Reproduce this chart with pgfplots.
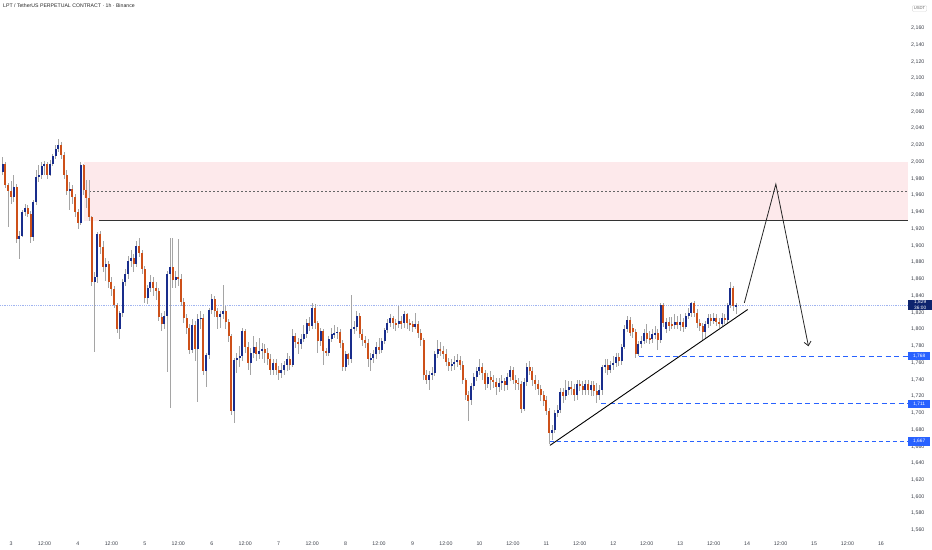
\documentclass[border=0pt]{standalone}
\usepackage{pgfplots}
\pgfplotsset{compat=1.18}
\usepackage{pgfplotstable}
\usepackage{fontspec}
\setmainfont{Liberation Sans}
\usetikzlibrary{arrows.meta}
\definecolor{upc}{RGB}{25,45,140}
\definecolor{dnc}{RGB}{205,80,25}
\definecolor{wick}{RGB}{165,165,165}
\definecolor{zone}{RGB}{253,233,235}
\definecolor{tvblue}{RGB}{41,98,255}
\definecolor{navylab}{RGB}{14,36,110}
\definecolor{curline}{RGB}{160,180,240}
\definecolor{labc}{RGB}{60,64,74}
\newcommand{\tickfont}{\fontsize{5.3}{6}\selectfont}
\pgfplotstableread{
t o h l c
-3 1988 2006 1985 1997
-2 1997 2000 1969 1972
-1 1972 1975 1922 1965
0 1965 1977 1950 1958
1 1958 1985 1952 1970
2 1970 1974 1903 1908
3 1908 1918 1884 1912
4 1912 1942 1910 1940
5 1940 1950 1936 1945
6 1945 1948 1934 1938
7 1938 1942 1903 1910
8 1910 1955 1906 1952
9 1952 1990 1948 1982
10 1982 1996 1976 1984
11 1984 2000 1980 1995
12 1995 2001 1984 1997
13 1997 2000 1980 1985
14 1985 2002 1983 1998
15 1998 2010 1995 2007
16 2007 2020 2004 2016
17 2016 2028 2012 2020
18 2020 2024 2004 2008
19 2008 2012 1980 1985
20 1985 1990 1960 1965
21 1965 1976 1942 1968
22 1968 1972 1950 1958
23 1958 1962 1934 1940
24 1940 1944 1920 1927
25 1927 2000 1925 1996
26 1996 1998 1960 1966
27 1966 1978 1945 1957
28 1957 1978 1930 1934
29 1934 1936 1852 1857
30 1857 1868 1773 1862
31 1862 1916 1855 1914
32 1914 1918 1890 1898
33 1898 1905 1868 1874
34 1874 1885 1858 1878
35 1878 1882 1850 1857
36 1857 1862 1840 1848
37 1848 1852 1825 1829
38 1829 1832 1796 1801
39 1801 1822 1789 1819
40 1819 1860 1815 1857
41 1857 1872 1852 1866
42 1866 1888 1860 1882
43 1882 1895 1875 1885
44 1885 1890 1868 1878
45 1878 1905 1874 1900
46 1900 1909 1886 1891
47 1891 1895 1866 1872
48 1872 1876 1832 1837
49 1837 1853 1830 1849
50 1849 1865 1845 1857
51 1857 1862 1840 1850
52 1850 1856 1835 1846
53 1846 1850 1810 1815
54 1815 1820 1798 1806
55 1806 1822 1800 1816
56 1816 1870 1749 1866
57 1866 1909 1706 1875
58 1875 1909 1850 1859
59 1859 1870 1850 1862
60 1862 1908 1852 1860
61 1860 1866 1828 1833
62 1833 1838 1808 1813
63 1813 1818 1795 1802
64 1802 1806 1770 1775
65 1775 1812 1772 1805
66 1805 1810 1762 1776
67 1776 1818 1713 1812
68 1812 1822 1800 1814
69 1814 1818 1745 1750
70 1750 1772 1731 1769
71 1769 1826 1765 1823
72 1823 1842 1818 1836
73 1836 1840 1815 1822
74 1822 1826 1800 1815
75 1815 1822 1802 1818
76 1818 1853 1812 1822
77 1822 1828 1800 1809
78 1809 1812 1785 1792
79 1792 1795 1698 1703
80 1703 1766 1688 1763
81 1763 1772 1748 1766
82 1766 1780 1755 1768
83 1768 1802 1762 1798
84 1798 1800 1772 1779
85 1779 1785 1752 1760
86 1760 1778 1745 1772
87 1772 1792 1766 1779
88 1779 1785 1762 1770
89 1770 1790 1765 1774
90 1774 1784 1764 1777
91 1777 1782 1760 1772
92 1772 1778 1758 1765
93 1765 1770 1745 1751
94 1751 1765 1746 1760
95 1760 1764 1745 1752
96 1752 1756 1740 1748
97 1748 1760 1742 1752
98 1752 1762 1745 1757
99 1757 1772 1750 1765
100 1765 1768 1752 1757
101 1757 1800 1755 1792
102 1792 1796 1778 1785
103 1785 1790 1770 1782
104 1782 1794 1776 1788
105 1788 1805 1785 1795
106 1795 1812 1790 1807
107 1807 1815 1798 1804
108 1804 1832 1800 1826
109 1826 1830 1800 1808
110 1808 1810 1772 1786
111 1786 1802 1780 1798
112 1798 1800 1758 1774
113 1774 1778 1768 1772
114 1772 1792 1768 1789
115 1789 1802 1785 1794
116 1794 1805 1790 1796
117 1796 1803 1788 1797
118 1797 1800 1778 1784
119 1784 1787 1750 1755
120 1755 1774 1750 1770
121 1770 1772 1758 1764
122 1764 1841 1760 1801
123 1801 1810 1795 1803
124 1803 1822 1798 1816
125 1816 1819 1790 1795
126 1795 1800 1780 1787
127 1787 1792 1778 1784
128 1784 1788 1755 1764
129 1764 1772 1750 1766
130 1766 1775 1760 1770
131 1770 1785 1765 1779
132 1779 1790 1770 1775
133 1775 1790 1772 1786
134 1786 1802 1783 1799
135 1799 1812 1796 1807
136 1807 1818 1803 1813
137 1813 1816 1800 1808
138 1808 1812 1798 1806
139 1806 1828 1802 1810
140 1810 1816 1800 1807
141 1807 1822 1802 1818
142 1818 1820 1800 1808
143 1808 1812 1798 1806
144 1806 1810 1797 1803
145 1803 1820 1800 1806
146 1806 1810 1790 1796
147 1796 1800 1780 1787
148 1787 1790 1740 1746
149 1746 1752 1735 1740
150 1740 1750 1727 1745
151 1745 1755 1740 1748
152 1748 1774 1744 1771
153 1771 1787 1766 1777
154 1777 1785 1768 1774
155 1774 1780 1764 1771
156 1771 1776 1756 1761
157 1761 1766 1750 1756
158 1756 1765 1750 1759
159 1759 1768 1752 1761
160 1761 1770 1755 1763
161 1763 1768 1752 1758
162 1758 1762 1735 1739
163 1739 1742 1716 1721
164 1721 1726 1691 1715
165 1715 1736 1710 1732
166 1732 1748 1728 1743
167 1743 1755 1738 1750
168 1750 1765 1745 1755
169 1755 1760 1740 1748
170 1748 1752 1728 1735
171 1735 1748 1730 1743
172 1743 1750 1728 1740
173 1740 1746 1730 1737
174 1737 1742 1722 1731
175 1731 1742 1725 1736
176 1736 1745 1728 1738
177 1738 1742 1726 1734
178 1734 1748 1728 1743
179 1743 1756 1738 1751
180 1751 1755 1735 1740
181 1740 1745 1728 1736
182 1736 1742 1728 1735
183 1735 1738 1700 1705
184 1705 1742 1702 1737
185 1737 1760 1732 1755
186 1755 1762 1745 1750
187 1750 1755 1732 1739
188 1739 1745 1728 1735
189 1735 1740 1722 1729
190 1729 1733 1714 1721
191 1721 1726 1708 1715
192 1715 1720 1698 1703
193 1703 1706 1663 1676
194 1676 1686 1668 1680
195 1680 1704 1676 1700
196 1700 1710 1695 1704
197 1704 1730 1700 1725
198 1725 1730 1712 1720
199 1720 1740 1715 1728
200 1728 1738 1722 1731
201 1731 1738 1722 1729
202 1729 1735 1715 1721
203 1721 1740 1716 1735
204 1735 1740 1726 1732
205 1732 1738 1722 1728
206 1728 1740 1722 1735
207 1735 1740 1722 1727
208 1727 1738 1720 1733
209 1733 1738 1720 1726
210 1726 1736 1712 1722
211 1722 1734 1716 1727
212 1727 1758 1722 1755
213 1755 1764 1748 1758
214 1758 1764 1746 1752
215 1752 1762 1748 1757
216 1757 1768 1752 1760
217 1760 1772 1755 1767
218 1767 1772 1756 1762
219 1762 1782 1758 1779
220 1779 1805 1776 1801
221 1801 1816 1797 1811
222 1811 1815 1792 1796
223 1802 1806 1790 1797
224 1797 1800 1766 1771
225 1771 1786 1768 1783
226 1783 1792 1778 1786
227 1786 1800 1782 1796
228 1796 1806 1784 1789
229 1789 1798 1782 1788
230 1788 1800 1784 1794
231 1794 1804 1788 1796
232 1796 1800 1775 1787
233 1787 1832 1784 1829
234 1829 1832 1803 1808
235 1801 1814 1796 1809
236 1809 1815 1798 1804
237 1806 1815 1800 1805
238 1805 1818 1800 1809
239 1809 1816 1800 1805
240 1805 1818 1798 1809
241 1809 1814 1797 1803
242 1803 1820 1800 1816
243 1816 1825 1812 1819
244 1819 1833 1815 1831
245 1831 1834 1815 1820
246 1820 1824 1802 1808
247 1808 1812 1798 1804
248 1804 1808 1786 1797
249 1797 1810 1790 1806
250 1806 1818 1802 1814
251 1814 1818 1804 1810
252 1810 1820 1806 1814
253 1814 1818 1804 1809
254 1809 1814 1802 1807
255 1807 1820 1804 1814
256 1814 1818 1806 1811
257 1811 1832 1808 1829
258 1829 1856 1826 1850
259 1850 1852 1822 1828
260 1828 1832 1818 1829
}\candles
\begin{document}
\begin{tikzpicture}
\useasboundingbox (0,0) rectangle (932bp,550bp);
\begin{axis}[
  at={(0,15bp)}, anchor=south west,
  scale only axis, width=908bp, height=535bp,
  xmin=-3.95, xmax=321.7, ymin=1554.3, ymax=2193.5,
  axis line style={draw=none},
  major tick length=0pt,
  clip=false,
  scaled y ticks=false,
  ytick={1560,1580,...,2160},
  yticklabel pos=right,
  yticklabel style={font=\tickfont, text=labc, anchor=west, inner sep=0pt, xshift=3bp},
  xtick={0,12,...,312},
  xticklabels={3,12:00,4,12:00,5,12:00,6,12:00,7,12:00,8,12:00,9,12:00,10,12:00,11,12:00,12,12:00,13,12:00,14,12:00,15,12:00,16},
  xticklabel style={font=\tickfont, text=labc, anchor=north, inner sep=0pt, yshift=-7bp},
  /pgf/number format/.cd, 1000 sep={,}, assume math mode=true,
]
% zone
\addplot[fill=zone, draw=none, mark=none, forget plot] coordinates {(26,1930) (321.7,1930) (321.7,2000) (26,2000)} -- cycle;
\addplot[color=black!60, mark=none, dash pattern=on 2bp off 2bp, line width=0.5bp] coordinates {(28,1965) (321.7,1965)};
\addplot[color=black!80, mark=none, line width=1.1bp] coordinates {(31.6,1930) (321.7,1930)};
% current price line
\addplot[color=curline, mark=none, dash pattern=on 0.6bp off 1.2bp, line width=0.6bp] coordinates {(-3.95,1829) (321.7,1829)};
% support lines
\addplot[color=tvblue, mark=none, dash pattern=on 5bp off 3.5bp, line width=0.9bp] coordinates {(225.3,1768) (321.7,1768)};
\addplot[color=tvblue, mark=none, dash pattern=on 5bp off 3.5bp, line width=0.9bp] coordinates {(211.6,1711) (321.7,1711)};
\addplot[color=tvblue, mark=none, dash pattern=on 4bp off 3bp, line width=0.8bp] coordinates {(193.3,1666) (321.7,1666)};
% wicks
\addplot[draw=none, mark=none, error bars/.cd, y dir=both, y explicit, error mark=none,
  error bar style={draw=wick, solid, line width=0.8bp}]
  table[x=t, y expr={(\thisrow{h}+\thisrow{l})/2}, y error expr={(\thisrow{h}-\thisrow{l})/2}] {\candles};
% up bodies
\addplot[draw=none, mark=none, restrict expr to domain={\thisrow{c}-\thisrow{o}}{0:10000},
  error bars/.cd, y dir=both, y explicit, error mark=none,
  error bar style={draw=upc, solid, line width=2bp}]
  table[x=t, y expr={(\thisrow{o}+\thisrow{c})/2}, y error expr={max(abs(\thisrow{c}-\thisrow{o})/2,0.7)}] {\candles};
% down bodies
\addplot[draw=none, mark=none, restrict expr to domain={\thisrow{o}-\thisrow{c}}{0.5:10000},
  error bars/.cd, y dir=both, y explicit, error mark=none,
  error bar style={draw=dnc, solid, line width=2bp}]
  table[x=t, y expr={(\thisrow{o}+\thisrow{c})/2}, y error expr={max(abs(\thisrow{c}-\thisrow{o})/2,0.7)}] {\candles};
% trend line
\addplot[color=black, mark=none, line width=0.9bp] coordinates {(193.3,1661.4) (264.2,1823.7)};
% projected path
\addplot[color=black!85, mark=none, line width=0.8bp, -{Straight Barb[length=4bp,width=7bp]}] coordinates {(263,1831.6) (274.3,1973.5) (286,1779.8)};
% price labels
\node[anchor=west, fill=navylab, text=white, font=\fontsize{4.8}{5.6}\selectfont, align=center, inner sep=0.6bp, minimum width=24bp] at (axis cs:321.7,1829) {1,829\\36:00};
\node[anchor=west, fill=tvblue, text=white, font=\fontsize{4.8}{5.6}\selectfont, inner sep=1bp, minimum width=22bp, minimum height=8.5bp] at (axis cs:321.7,1768) {1,768};
\node[anchor=west, fill=tvblue, text=white, font=\fontsize{4.8}{5.6}\selectfont, inner sep=1bp, minimum width=22bp, minimum height=8.5bp] at (axis cs:321.7,1711) {1,711};
\node[anchor=west, fill=tvblue, text=white, font=\fontsize{4.8}{5.6}\selectfont, inner sep=1bp, minimum width=22bp, minimum height=8.5bp] at (axis cs:321.7,1666) {1,667};
\end{axis}
\node[anchor=north west, font=\fontsize{5.2}{6}\selectfont, text=black!85, inner sep=0pt] at (3bp,546bp) {LPT / TetherUS PERPETUAL CONTRACT · 1h · Binance};
\node[draw=black!15, fill=white, rounded corners=1bp, font=\fontsize{4.2}{5}\selectfont, text=black!60, inner sep=1.5bp] at (919.5bp,541.5bp) {USDT};
\end{tikzpicture}
\end{document}
